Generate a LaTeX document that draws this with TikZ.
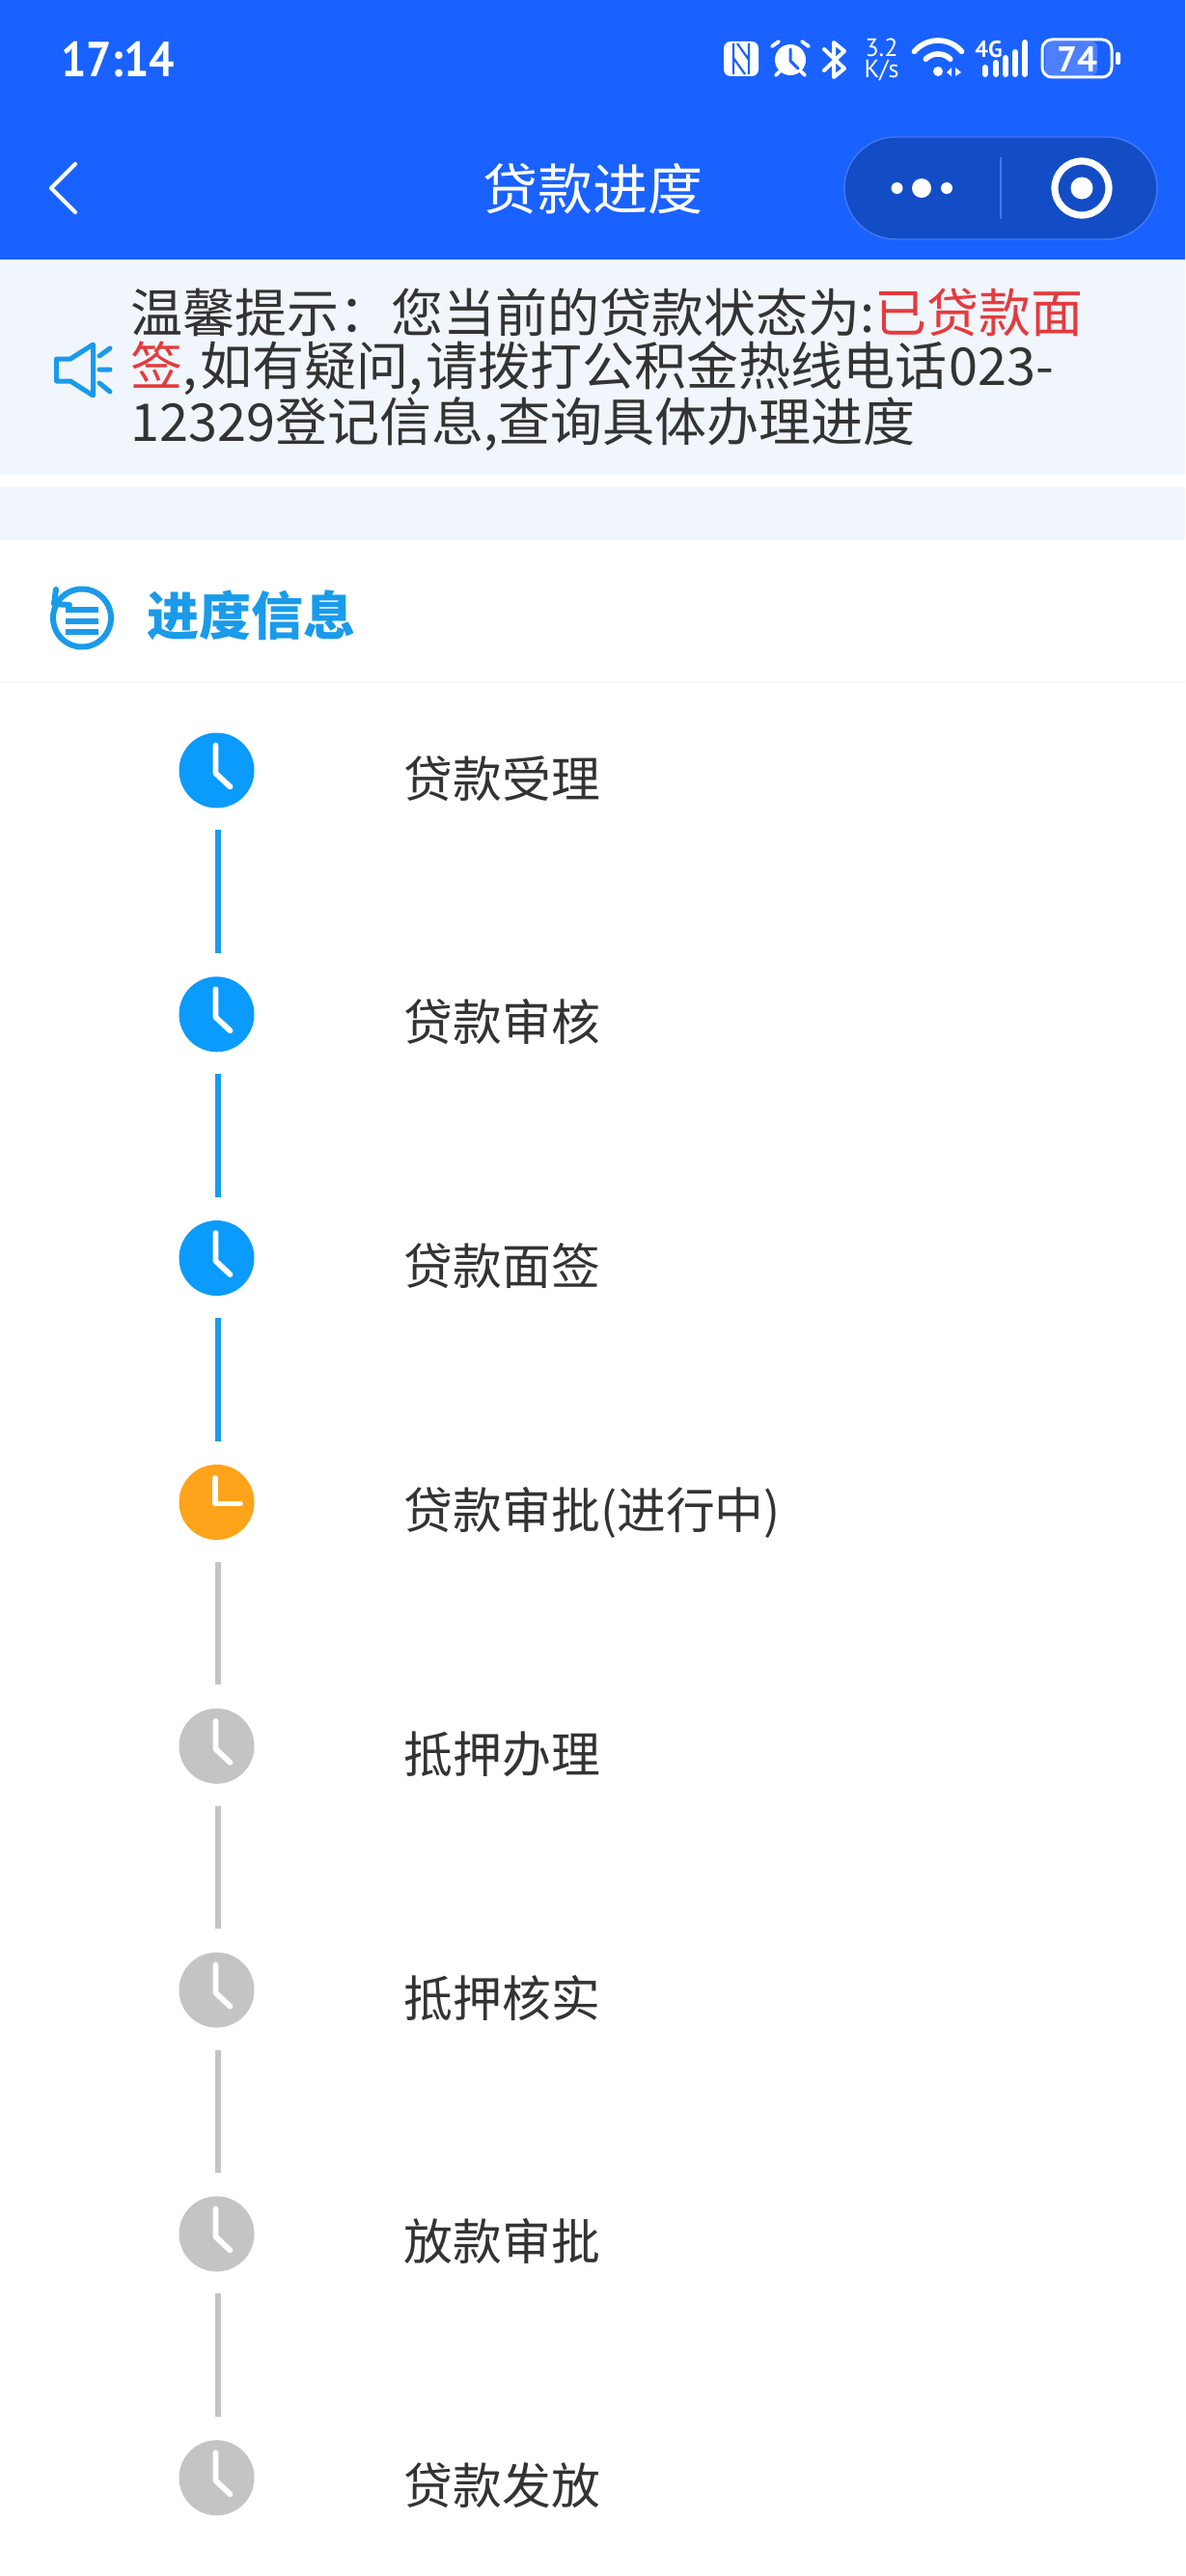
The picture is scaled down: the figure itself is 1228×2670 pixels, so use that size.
\documentclass[tikz,border=0pt]{standalone}
\usepackage{fontspec}
\setmainfont{Noto Sans CJK SC}
\newfontfamily\din{PT Sans}
\definecolor{hdr}{HTML}{1A62FF}
\definecolor{capsule}{HTML}{134DC6}
\definecolor{capedge}{HTML}{4079F2}
\definecolor{band}{HTML}{F1F6FC}
\definecolor{tipred}{HTML}{E53A3E}
\definecolor{ink}{HTML}{333333}
\definecolor{sect}{HTML}{1A9BEA}
\definecolor{clkblue}{HTML}{0A9BFC}
\definecolor{clkorange}{HTML}{FFA31A}
\definecolor{clkgrey}{HTML}{C4C4C4}
\definecolor{battfill}{HTML}{4C80FF}
\tikzset{
  clockface/.style={circle,inner sep=0pt,minimum size=39pt,fill=#1},
  hand/.style={draw=white,line width=2.9pt,line cap=round,line join=round},
  conn/.style={draw=#1,line width=3pt,shorten >=12pt,shorten <=11.25pt},
  lbl/.style={anchor=base west,inner sep=0pt,text=ink,font=\fontsize{25.4}{25.4}\selectfont},
  wline/.style={draw=white,line cap=round,line join=round},
  sline/.style={draw=sect,line cap=round,line join=round},
  stat/.style={text=white,inner sep=0pt,font=\din}
}
\begin{document}
\begin{tikzpicture}[x=0.5pt,y=-0.5pt]
\useasboundingbox (0,0) rectangle (1228,2670);
\fill[white] (0,0) rectangle (1228,2670);
% header
\fill[hdr] (0,0) rectangle (1228,269);
\node[stat,anchor=base west,xscale=0.91,font=\din\bfseries\fontsize{25.5}{25.5}\selectfont] (time) at (63,80) {17:14};
% NFC
\fill[white,rounded corners=3.5pt] (750,43) rectangle (786,79);
\draw[hdr,line width=1.1pt] (760,45) -- (760,77) (776,45) -- (776,77) (764,45) -- (776,62) (760,60) -- (772,77);
% alarm
\fill[white] (819,62) circle (16);
\draw[hdr,line width=1.5pt,line cap=round,line join=round] (819,51) -- (819,63) -- (827,71);
\draw[wline,line width=1.9pt] (800,48) -- (807,43) (831,43) -- (838,48) (804,78) -- (808,74) (834,78) -- (830,74);
% bluetooth
\draw[wline,line width=2pt] (854,51) -- (875,71) -- (864,80) -- (864,44) -- (875,53) -- (854,73);
% speed
\node[stat,font=\din\fontsize{13}{13}\selectfont,anchor=base] (sp1) at (913.5,59) {3.2};
\node[stat,font=\din\fontsize{13}{13}\selectfont,anchor=base] (sp2) at (913.5,81) {K/s};
% wifi
\draw[wline,line width=2.8pt,domain=220:320,samples=30] plot ({972+32*cos(\x)},{74+32*sin(\x)});
\draw[wline,line width=2.8pt,domain=225:315,samples=30] plot ({972+18*cos(\x)},{74+18*sin(\x)});
\fill[white] (972,74) circle (5);
\fill[white] (981,75) -- (986,70) -- (986,79) -- cycle (990,70) -- (996,75) -- (990,79) -- cycle;
% 4G and bars
\node[stat,font=\din\bfseries\fontsize{12}{12}\selectfont,anchor=base west] (fourg) at (1010,60) {4G};
\draw[wline,line width=3pt] (1020.5,70) -- (1020.5,77) (1032,65) -- (1032,77) (1042,60) -- (1042,77) (1052,54) -- (1052,77) (1062,44) -- (1062,77);
% battery
\fill[battfill,rounded corners=3pt] (1083,43) rectangle (1137,78);
\draw[white,line width=1.5pt,rounded corners=5pt] (1080,41) rectangle (1152,80);
\node[stat,font=\din\bfseries\fontsize{18.5}{18.5}\selectfont] (batt) at (1116,61) {74};
\fill[white,rounded corners=1pt] (1156,54) rectangle (1161,67);
% nav
\draw[wline,line width=2.1pt] (78,170) -- (53,195) -- (78,220);
\node[inner sep=0pt,text=white,anchor=base,font=\fontsize{28.5}{28.5}\selectfont] (title) at (614,218) {贷款进度};
\draw[fill=capsule,draw=capedge,line width=0.7pt,rounded corners=26.5pt] (875,142) rectangle (1199,248);
\draw[capedge,line width=0.6pt] (1037,163) -- (1037,227);
\fill[white] (955,195) circle (10) (929.5,195) circle (6) (981,195) circle (6);
\draw[white,line width=3.6pt] (1121,195) circle (28);
\fill[white] (1121,195) circle (11.5);
% notice
\fill[band] (0,269) rectangle (1228,492);
\draw[sect,line width=2.5pt,line join=round] (58.5,372) -- (73,372) -- (96.5,357) -- (96.5,410) -- (73,395) -- (58.5,395) -- cycle;
\draw[sline,line width=2.5pt] (103,369) -- (114,361) (103,383) -- (114,383) (103,397) -- (114,406);
\node[anchor=north west,inner sep=0pt,align=left,text=ink,font=\fontsize{27}{27.25}\selectfont] (tip) at (135,298.5)
  {温馨提示：您当前的贷款状态为:\textcolor{tipred}{已贷款面}\\
   \textcolor{tipred}{签},\hspace{1.5pt}如有疑问,\hspace{1.5pt}请拨打公积金热线电话\hspace{1pt}023-\\
   12329登记信息,查询具体办理进度};
\fill[band] (0,505) rectangle (1228,560);
% section
\draw[sline,line width=3pt,domain=153:540,samples=80] plot ({85+30*cos(\x)},{640.5+30*sin(\x)});
\draw[sline,line width=3pt] (58,611) -- (56,626) -- (72,627);
\draw[draw=sect,line width=3pt] (68,632) -- (102,632) (68,643.5) -- (102,643.5) (68,655) -- (102,655);
\node[anchor=base west,inner sep=0pt,text=sect,font=\fontsize{27}{27}\selectfont\bfseries] (sec) at (152,658) {进度信息};
\draw[draw=black!3,line width=1pt] (0,707) -- (1228,707);
% steps
\foreach \n/\y/\c/\t in {n1/798.5/clkblue/贷款受理,n2/1051.3/clkblue/贷款审核,n3/1304/clkblue/贷款面签,n4/1557/clkorange/贷款审批(进行中),n5/1809.8/clkgrey/抵押办理,n6/2062.6/clkgrey/抵押核实,n7/2315.4/clkgrey/放款审批,n8/2568.2/clkgrey/贷款发放}{
  \node[clockface=\c] (\n) at (224.5,\y) {};
  \node[lbl] (\n t) at (418.5,\y+27.5) {\t};
}
\foreach \n in {n1,n2,n3,n5,n6,n7,n8}{
  \draw[hand] (\n.center) ++(-1,-26) -- ++(0,29) -- ++(15,14);
}
\draw[hand] (n4.center) ++(-1.5,-25) -- ++(0,26.5) -- ++(26,0);
\foreach \a/\b/\c in {n1/n2/sect,n2/n3/sect,n3/n4/sect,n4/n5/clkgrey,n5/n6/clkgrey,n6/n7/clkgrey,n7/n8/clkgrey}{
  \draw[conn=\c] ([xshift=0.75pt]\a.south) -- ([xshift=0.75pt]\b.north);
}
\end{tikzpicture}
\end{document}
